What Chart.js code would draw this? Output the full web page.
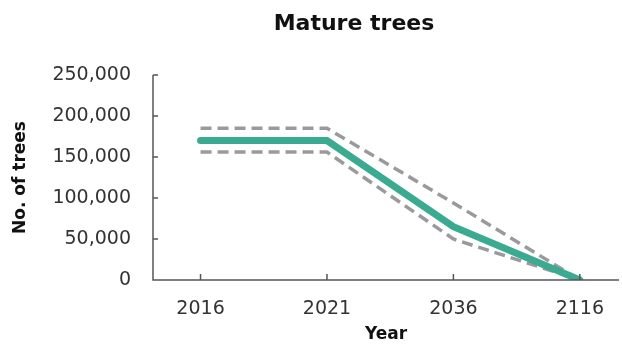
<!DOCTYPE html>
<html><head><meta charset="utf-8">
<script src="https://cdn.jsdelivr.net/npm/chart.js@4/dist/chart.umd.min.js"></script>
<style>html,body{margin:0;padding:0;background:#fff}#wrap{width:622px;height:349px}</style>
</head><body><div id="wrap"><canvas id="c"></canvas></div>
<script>
const years = ["2016", "2021", "2036", "2116"];
const central = [170000, 170000, 65000, 0];
const upper = [185000, 185000, 94000, 0];
const lower = [156000, 156000, 50000, 0];
const yTicks = [0, 50000, 100000, 150000, 200000, 250000];
const chartTitle = "Mature trees";

const pts = arr => arr.map((v, i) => ({x: i, y: v}));
const FONT = "'DejaVu Sans', sans-serif";
const AX = '#555';

const innerTicks = {
  id: 'innerTicks',
  afterDatasetsDraw(chart) {
    const {ctx, scales: {x, y}, chartArea: a} = chart;
    ctx.save();
    ctx.strokeStyle = AX; ctx.lineWidth = 1.5;
    ctx.beginPath();
    ctx.moveTo(a.left, y.getPixelForValue(250000)); ctx.lineTo(a.left, y.getPixelForValue(0));
    ctx.lineTo(a.right, y.getPixelForValue(0));
    yTicks.forEach(v => { const p = y.getPixelForValue(v); ctx.moveTo(a.left, p); ctx.lineTo(a.left + 5, p); });
    years.forEach((_, i) => { const p = x.getPixelForValue(i); ctx.moveTo(p, a.bottom); ctx.lineTo(p, a.bottom - 6); });
    ctx.stroke();
    ctx.fillStyle = '#111';
    ctx.font = "bold 22px " + FONT;
    ctx.textAlign = 'center'; ctx.textBaseline = 'middle';
    ctx.fillText(chartTitle, 354, 24);
    ctx.restore();
  }
};

new Chart(document.getElementById('c'), {
  type: 'line',
  data: {
    datasets: [
      {data: pts(upper), borderColor: '#9a9a9c', borderWidth: 3.5, borderDash: [11, 6], pointRadius: 0, fill: false, order: 2},
      {data: pts(lower), borderColor: '#9a9a9c', borderWidth: 3.5, borderDash: [11, 6], pointRadius: 0, fill: false, order: 2},
      {data: pts(central), borderColor: '#3aab90', borderWidth: 7, pointRadius: 0, fill: false, borderCapStyle: 'round', order: 1}
    ]
  },
  options: {
    responsive: true, maintainAspectRatio: false, animation: false,
    layout: {padding: {top: 75, right: 0, left: 0, bottom: 0}},
    plugins: {
      legend: {display: false}, tooltip: {enabled: false}, title: {display: false}
    },
    scales: {
      x: {
        type: 'linear', min: -0.376, max: 3.31,
        afterFit(s) { s.height = 69; },
        afterBuildTicks(s) { s.ticks = years.map((_, i) => ({value: i})); },
        grid: {display: false, drawTicks: false}, border: {display: false},
        ticks: {padding: 18, color: '#333', font: {family: FONT, size: 19}, callback: v => years[v] ?? ''},
        title: {display: true, text: 'Year', color: '#111', font: {family: FONT, size: 17, weight: 'bold'}, padding: {top: 2}}
      },
      y: {
        min: 0, max: 250000,
        afterFit(s) { s.width = 153; },
        afterBuildTicks(s) { s.ticks = yTicks.map(v => ({value: v})); },
        grid: {display: false, drawTicks: false}, border: {display: false},
        ticks: {padding: 22, color: '#333', font: {family: FONT, size: 19}, callback: v => v.toLocaleString('en-US')},
        title: {display: true, text: 'No. of trees', color: '#111', font: {family: FONT, size: 17, weight: 'bold'}, padding: {top: 10, bottom: 0}}
      }
    }
  },
  plugins: [innerTicks]
});
</script></body></html>
